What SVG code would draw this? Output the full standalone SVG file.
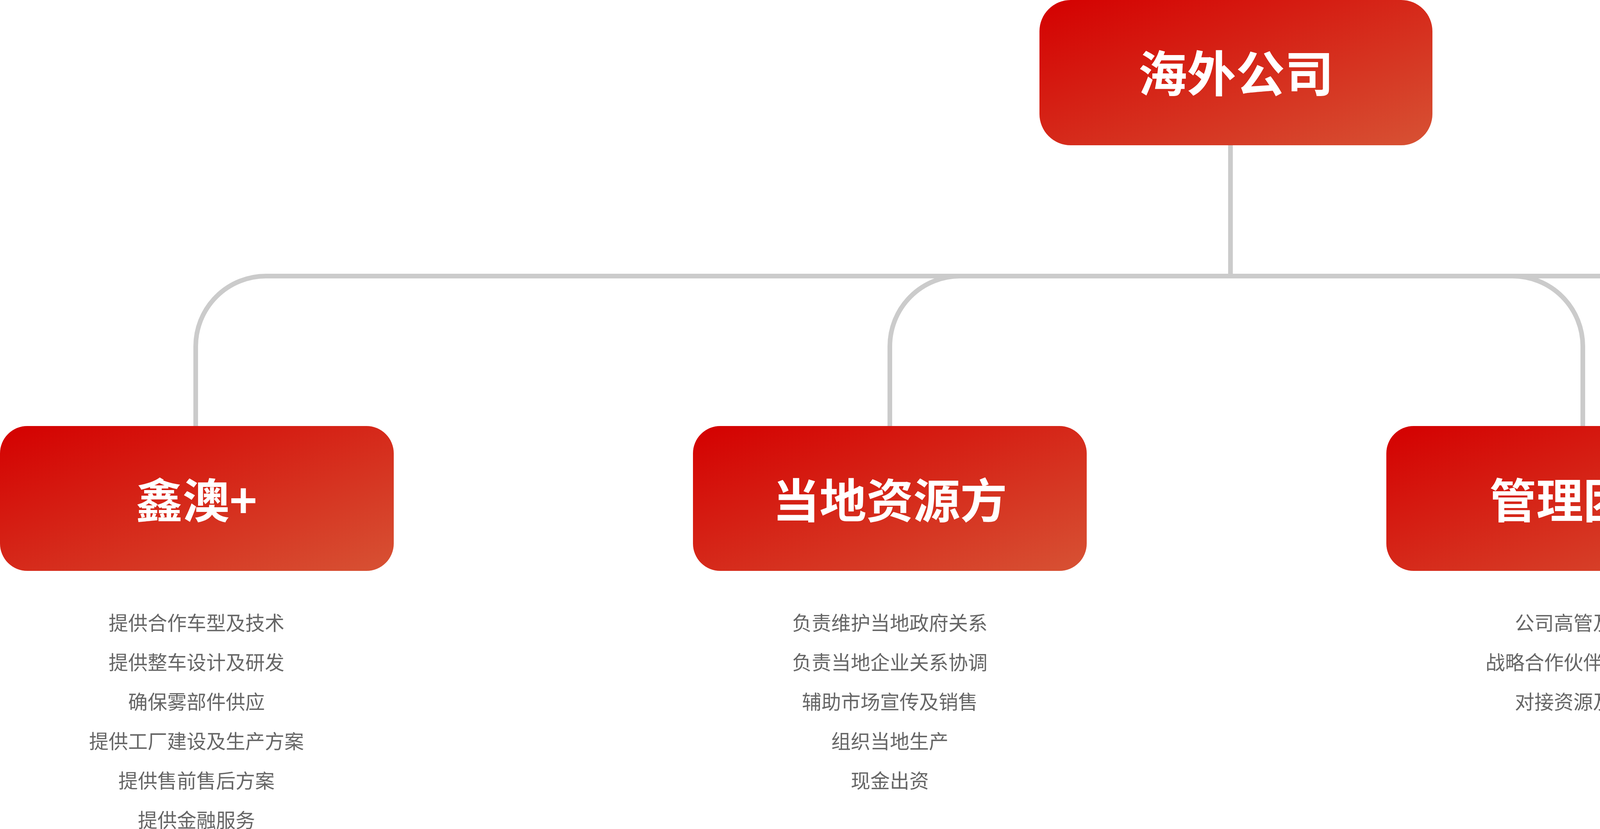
<svg xmlns="http://www.w3.org/2000/svg" width="6332" height="2123" viewBox="0 0 6332 2123">
<defs>
<linearGradient id="g" x1="0" y1="0" x2="1" y2="1">
<stop offset="0" stop-color="#d40000"/>
<stop offset="1" stop-color="#d75234"/>
</linearGradient>
<style>
.box{fill:url(#g)}
.t{font-family:"Noto Sans CJK SC",sans-serif;font-weight:bold;fill:#fff;text-anchor:middle;dominant-baseline:central}
.d{font-family:"Noto Sans CJK SC",sans-serif;font-size:50px;fill:#666;text-anchor:middle;dominant-baseline:central}
.c{fill:none;stroke:#cbcbcb;stroke-width:12}
</style>
</defs>
<rect width="6332" height="2123" fill="#fff"/>
<g id="connectors">
<path class="c" d="M3150,372 V707"/>
<path class="c" d="M681,707 H5652"/>
<path class="c" d="M501,1091 V887 A180,180 0 0 1 681,707"/>
<path class="c" d="M2278,1091 V887 A180,180 0 0 1 2458,707"/>
<path class="c" d="M4052,1091 V887 A180,180 0 0 0 3872,707"/>
<path class="c" d="M5832,1091 V887 A180,180 0 0 0 5652,707"/>
</g>
<g id="root">
<rect class="box" x="2661" y="0" width="1006" height="372" rx="80"/>
<text class="t" x="3164" y="180" font-size="125">海外公司</text>
</g>
<g id="n1">
<rect class="box" x="0" y="1091" width="1008" height="371" rx="70"/>
<text class="t" x="503" y="1275" font-size="120">鑫澳+</text>
<text class="d" x="503" y="1592">提供合作车型及技术</text>
<text class="d" x="503" y="1693">提供整车设计及研发</text>
<text class="d" x="503" y="1794">确保雾部件供应</text>
<text class="d" x="503" y="1895">提供工厂建设及生产方案</text>
<text class="d" x="503" y="1996">提供售前售后方案</text>
<text class="d" x="503" y="2097">提供金融服务</text>
</g>
<g id="n2">
<rect class="box" x="1774" y="1091" width="1008" height="371" rx="70"/>
<text class="t" x="2278" y="1275" font-size="120">当地资源方</text>
<text class="d" x="2278" y="1592">负责维护当地政府关系</text>
<text class="d" x="2278" y="1693">负责当地企业关系协调</text>
<text class="d" x="2278" y="1794">辅助市场宣传及销售</text>
<text class="d" x="2278" y="1895">组织当地生产</text>
<text class="d" x="2278" y="1996">现金出资</text>
</g>
<g id="n3">
<rect class="box" x="3549" y="1091" width="1008" height="371" rx="70"/>
<text class="t" x="4053" y="1275" font-size="120">管理团队</text>
<text class="d" x="4053" y="1592">公司高管及团队</text>
<text class="d" x="4053" y="1693">战略合作伙伴个人持股</text>
<text class="d" x="4053" y="1794">对接资源及市场</text>
</g>
<g id="n4">
<rect class="box" x="5324" y="1091" width="1008" height="371" rx="70"/>
<text class="t" x="5830" y="1275" font-size="120">投资方</text>
<text class="d" x="5830" y="1592">资本及出资方</text>
</g>
</svg>
